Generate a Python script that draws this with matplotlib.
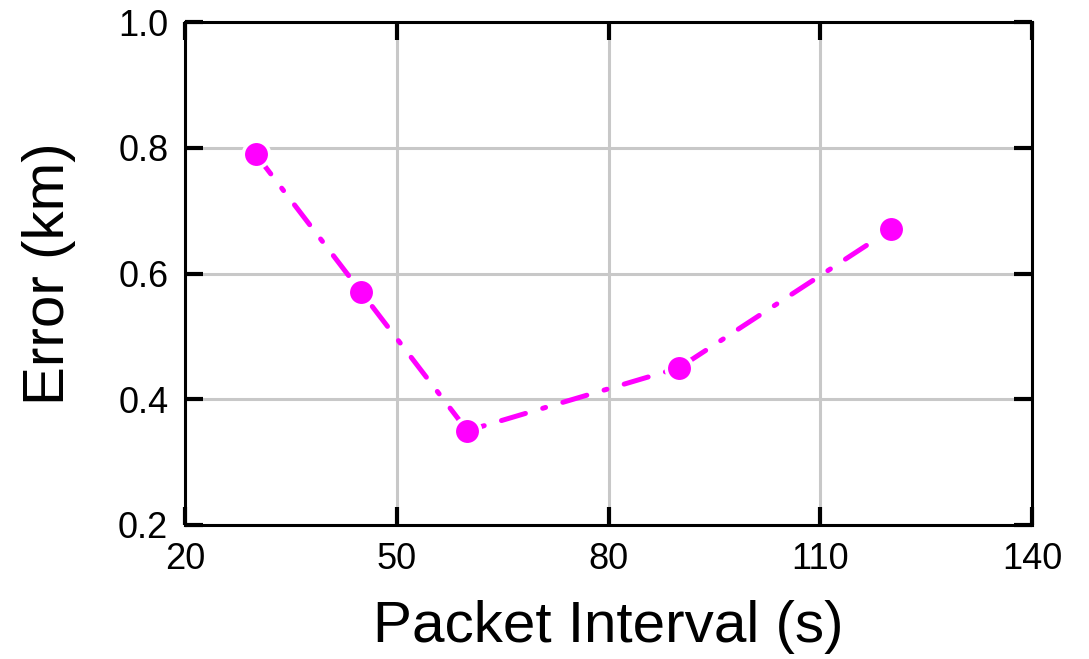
import matplotlib
matplotlib.use("Agg")
import matplotlib.pyplot as plt

plt.rcParams['font.family'] = ['Liberation Sans', 'DejaVu Sans']

# packet interval (s) vs localisation error (km)
interval = [30, 45, 60, 90, 120]
error_km = [0.79, 0.57, 0.35, 0.45, 0.67]

xticks = [20, 50, 80, 110, 140]
yticks = [0.2, 0.4, 0.6, 0.8, 1.0]

fig = plt.figure(figsize=(10.89, 6.59), dpi=100)
ax = fig.add_axes([185 / 1089, 1 - 525 / 659, (1032 - 185) / 1089, (525 - 22) / 659])

ax.plot(interval, error_km, color='#ff00ff', linestyle=(0, (5, 3.6, 0.6, 3.6)),
        linewidth=3.6, dash_capstyle='round', marker='o', markersize=19,
        markerfacecolor='#ff00ff', markeredgecolor='white', markeredgewidth=2.5,
        zorder=3)

ax.set_xlim(20, 140)
ax.set_ylim(0.2, 1.0)
ax.set_xticks(xticks)
ax.set_yticks(yticks)
ax.set_xticklabels([str(v) for v in xticks])
ax.set_yticklabels([f"{v:.1f}" for v in yticks])

ax.grid(True, color='#c8c8c8', linewidth=2.2, zorder=0)
ax.set_axisbelow(True)

for s in ax.spines.values():
    s.set_linewidth(2.2)
    s.set_zorder(4)

ax.tick_params(direction='in', length=13, width=3, labelsize=26,
               top=True, right=True, pad=12)

ax.set_xlabel('Packet Interval (s)', fontsize=42, labelpad=17)
ax.set_ylabel('Error (km)', fontsize=42, labelpad=30)

fig.savefig('out.png', dpi=100)
